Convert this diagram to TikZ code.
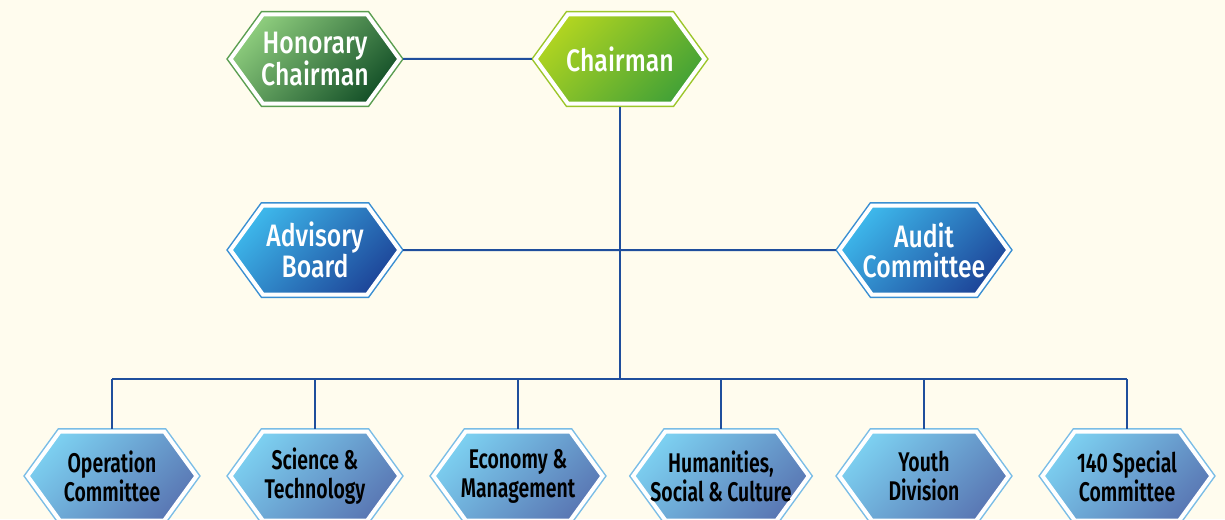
\documentclass[tikz,border=0pt]{standalone}
\usepackage{fontspec}
\setmainfont{Fira Sans}
\newfontfamily\topfont{Fira Sans}[FakeStretch=0.8, UprightFont={* Medium}]
\newfontfamily\divfont{Fira Sans}[FakeStretch=0.72, UprightFont={* SemiBold}]
\usetikzlibrary{shapes.symbols}
\definecolor{bgcream}{HTML}{FFFCEE}
\definecolor{linkblue}{HTML}{1F4E9C}
\definecolor{honedge}{HTML}{5A9E50}
\definecolor{honlight}{HTML}{8CCB7C}
\definecolor{hondark}{HTML}{17532A}
\definecolor{chairedge}{HTML}{9CC62A}
\definecolor{chairlight}{HTML}{B0D421}
\definecolor{chairdark}{HTML}{44A236}
\definecolor{boardedge}{HTML}{3A8FD2}
\definecolor{boardlight}{HTML}{3DB6EA}
\definecolor{boarddark}{HTML}{1E479A}
\definecolor{divedge}{HTML}{7ABDE6}
\definecolor{divlight}{HTML}{7CCFF0}
\definecolor{divdark}{HTML}{5A78B4}
\tikzset{
  hexbox/.style={signal, signal to=west and east, signal pointer angle=108,
    minimum width=169pt, minimum height=89pt, inner xsep=-15pt, inner ysep=0pt,
    outer sep=3pt, draw=white, line width=4pt, align=center,
    preaction={draw=#1, line width=7pt}},
  topbox/.style={text=white, font=\topfont\fontsize{31}{30}\selectfont},
  divbox/.style={hexbox=divedge, top color=divlight, bottom color=divdark,
    shading angle=45, text=black, font=\divfont\fontsize{27}{29}\selectfont},
  link/.style={draw=linkblue, line width=2pt}
}
\begin{document}
\begin{tikzpicture}[x=1pt, y=-1pt]
  \fill[bgcream] (0,0) rectangle (1225,519);
  \useasboundingbox (0,0) rectangle (1225,519);
  \node[hexbox=honedge, top color=honlight, bottom color=hondark, shading angle=45, topbox]
    (hon) at (315,59) {Honorary\\Chairman};
  \node[hexbox=chairedge, top color=chairlight, bottom color=chairdark, shading angle=45, topbox]
    (chair) at (620,59) {Chairman};
  \node[hexbox=boardedge, top color=boardlight, bottom color=boarddark, shading angle=45, topbox]
    (adv) at (315,250) {Advisory\\Board};
  \node[hexbox=boardedge, top color=boardlight, bottom color=boarddark, shading angle=45, topbox]
    (aud) at (924,250) {Audit\\Committee};
  \node[divbox] (ops) at (112,476) {Operation\\Committee};
  \node[divbox] (sci) at (315,476) {Science \&\\Technology};
  \node[divbox] (eco) at (518,476) {Economy \&\\Management};
  \node[divbox] (hum) at (721,476) {Humanities,\\Social\,\&\,Culture};
  \node[divbox] (yth) at (924,476) {Youth\\Division};
  \node[divbox] (spc) at (1127,476) {140 Special\\Committee};
  \coordinate (bus) at (620,379);
  \begin{scope}[link]
    \draw (hon) to (chair);
    \draw (adv) to (aud);
    \draw (chair.south) to (bus);
    \draw (ops.north |- bus) to (spc.north |- bus);
    \draw (ops.north) to (ops.north |- bus);
    \draw (sci.north) to (sci.north |- bus);
    \draw (eco.north) to (eco.north |- bus);
    \draw (hum.north) to (hum.north |- bus);
    \draw (yth.north) to (yth.north |- bus);
    \draw (spc.north) to (spc.north |- bus);
  \end{scope}
\end{tikzpicture}
\end{document}
